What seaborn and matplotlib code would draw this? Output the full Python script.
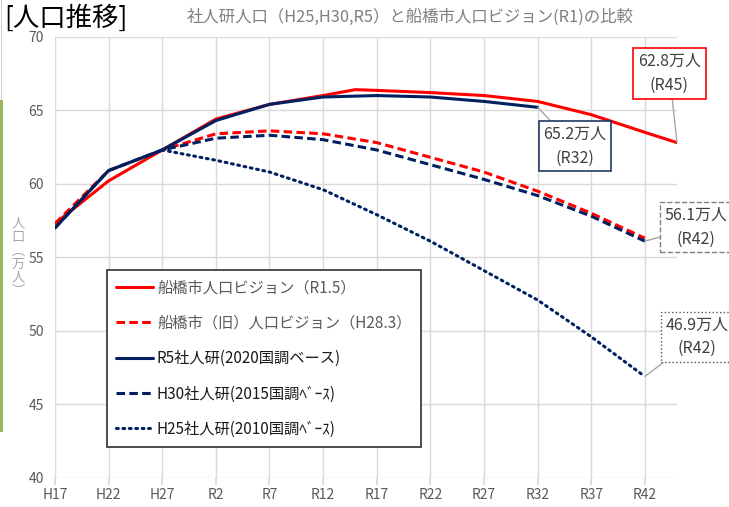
import numpy as np
import pandas as pd
import matplotlib.pyplot as plt
import seaborn as sns
from matplotlib.patches import Rectangle

# data (万人)
years_5y = [2005, 2010, 2015, 2020, 2025, 2030, 2035, 2040, 2045, 2050, 2055, 2060]
tick_labels = ["H17", "H22", "H27", "R2", "R7", "R12", "R17", "R22", "R27", "R32", "R37", "R42"]

years_vision_r1 = [2005, 2010, 2015, 2020, 2025, 2030, 2033, 2035, 2040, 2045, 2050, 2055, 2060, 2063]
vision_r1 = [57.3, 60.2, 62.3, 64.4, 65.4, 66.0, 66.4, 66.35, 66.2, 66.0, 65.6, 64.7, 63.5, 62.8]

vision_h28 = [57.3, 60.9, 62.3, 63.4, 63.6, 63.4, 62.8, 61.8, 60.8, 59.5, 58.0, 56.3]

years_r5 = years_5y[:10]
ipss_r5 = [57.0, 60.9, 62.3, 64.3, 65.4, 65.9, 66.0, 65.9, 65.6, 65.2]

ipss_h30 = [57.0, 60.9, 62.3, 63.1, 63.3, 63.0, 62.3, 61.3, 60.3, 59.2, 57.8, 56.1]

years_h25 = years_5y[2:]
ipss_h25 = [62.3, 61.6, 60.8, 59.6, 57.9, 56.1, 54.1, 52.1, 49.6, 46.9]

labels = ["船橋市人口ビジョン（R1.5）", "船橋市（旧）人口ビジョン（H28.3）",
          "R5社人研(2020国調ベース)", "H30社人研(2015国調ﾍﾞｰｽ)", "H25社人研(2010国調ﾍﾞｰｽ)"]

RED = "#FF0000"
NAVY = "#002060"
GRAY = "#595959"

sns.set_theme(style="white")
plt.rcParams["font.family"] = ["Noto Sans CJK JP", "DejaVu Sans"]

fig = plt.figure(figsize=(7.29, 5.07), dpi=100)
ax = fig.add_axes([55 / 729, 29 / 507, 622 / 729, 441.3 / 507])

lw = 2.2
sns.lineplot(x=years_vision_r1, y=vision_r1, ax=ax, color=RED, linewidth=lw, label=labels[0])
sns.lineplot(x=years_5y, y=vision_h28, ax=ax, color=RED, linewidth=lw,
             linestyle=(0, (2.8, 1.4)), label=labels[1])
sns.lineplot(x=years_r5, y=ipss_r5, ax=ax, color=NAVY, linewidth=lw, label=labels[2])
sns.lineplot(x=years_5y, y=ipss_h30, ax=ax, color=NAVY, linewidth=lw,
             linestyle=(0, (2.8, 1.4)), label=labels[3])
sns.lineplot(x=years_h25, y=ipss_h25, ax=ax, color=NAVY, linewidth=lw,
             linestyle=(0, (0.6, 1.5)), dash_capstyle="round", label=labels[4])

ax.set_xlim(2005, 2063)
ax.set_ylim(40, 70)
ax.set_xticks(years_5y)
ax.set_xticklabels(tick_labels)
ax.set_yticks(range(40, 71, 5))
ax.set_xlabel("")
ax.set_ylabel("")
ax.grid(True, color="#d9d9d9", linewidth=1)
ax.set_axisbelow(True)
for s in ax.spines.values():
    s.set_visible(False)
ax.tick_params(axis="x", length=5, color="#d9d9d9", pad=2, labelsize=10, labelcolor=GRAY, bottom=True)
ax.tick_params(axis="y", length=0, pad=8, labelsize=10, labelcolor=GRAY)

# legend
handles = ax.get_lines()[:5]
leg = ax.legend(handles=handles, labels=labels, loc="upper left",
                bbox_to_anchor=(0.0836, 0.4713), borderaxespad=0, fontsize=11,
                handlelength=2.4, handletextpad=0.25, labelspacing=1.2,
                frameon=True, fancybox=False, framealpha=1, borderpad=0.62)
leg.get_frame().set_edgecolor("#404040")
leg.get_frame().set_linewidth(1.3)
for i, t in enumerate(leg.get_texts()):
    t.set_color(GRAY if i < 2 else "#1a1a1a")

# callouts
txt_kw = dict(fontsize=11.5, color="#404040", ha="center", va="center",
              linespacing=1.5, annotation_clip=False)
arrow = dict(arrowstyle="-", color="#a6a6a6", lw=1, shrinkA=0, shrinkB=0)
ax.annotate(f"{vision_r1[-1]}万人\n(R45)", xy=(years_vision_r1[-1], vision_r1[-1]),
            xytext=(2062.3, 67.5), arrowprops=arrow,
            bbox=dict(boxstyle="square,pad=0.3", fc="white", ec=RED, lw=1.2), **txt_kw)
ax.annotate(f"{ipss_r5[-1]}万人\n(R32)", xy=(years_r5[-1], ipss_r5[-1]),
            xytext=(2053.5, 62.55), arrowprops=arrow,
            bbox=dict(boxstyle="square,pad=0.3", fc="white", ec="#1F3864", lw=1.2), **txt_kw)
ax.annotate(f"{ipss_h30[-1]}万人\n(R42)", xy=(years_5y[-1], ipss_h30[-1]),
            xytext=(2064.8, 57.05), arrowprops=arrow,
            bbox=dict(boxstyle="square,pad=0.3", fc="white", ec="#7f7f7f", lw=1, ls="--"), **txt_kw)
ax.annotate(f"{ipss_h25[-1]}万人\n(R42)", xy=(years_h25[-1], ipss_h25[-1]),
            xytext=(2064.9, 49.6), arrowprops=arrow,
            bbox=dict(boxstyle="square,pad=0.3", fc="white", ec="#44546A", lw=1, ls=":"), **txt_kw)

# titles and axis label
fig.text(4 / 729, 1 - 18 / 507, "[人口推移]", fontsize=19, color="black", ha="left", va="center")
fig.text(410 / 729, 1 - 17 / 507, "社人研人口（H25,H30,R5）と船橋市人口ビジョン(R1)の比較",
         fontsize=11.8, color="#7f7f7f", ha="center", va="center")
fig.text(18 / 729, 1 - 258 / 507, "人\n口\n︵\n万\n人\n︶", fontsize=9.5, color="#a6a6a6",
         ha="center", va="center", linespacing=1.05)

# page decoration on the left edge
fig.add_artist(Rectangle((0, 1 - 432 / 507), 3 / 729, 332 / 507, transform=fig.transFigure,
                         color="#9BBB59", lw=0))
fig.add_artist(Rectangle((1 / 729, 1 - 100 / 507), 1 / 729, 100 / 507, transform=fig.transFigure,
                         color="#d0d0d0", lw=0))

fig.savefig("out.png", dpi=100)
